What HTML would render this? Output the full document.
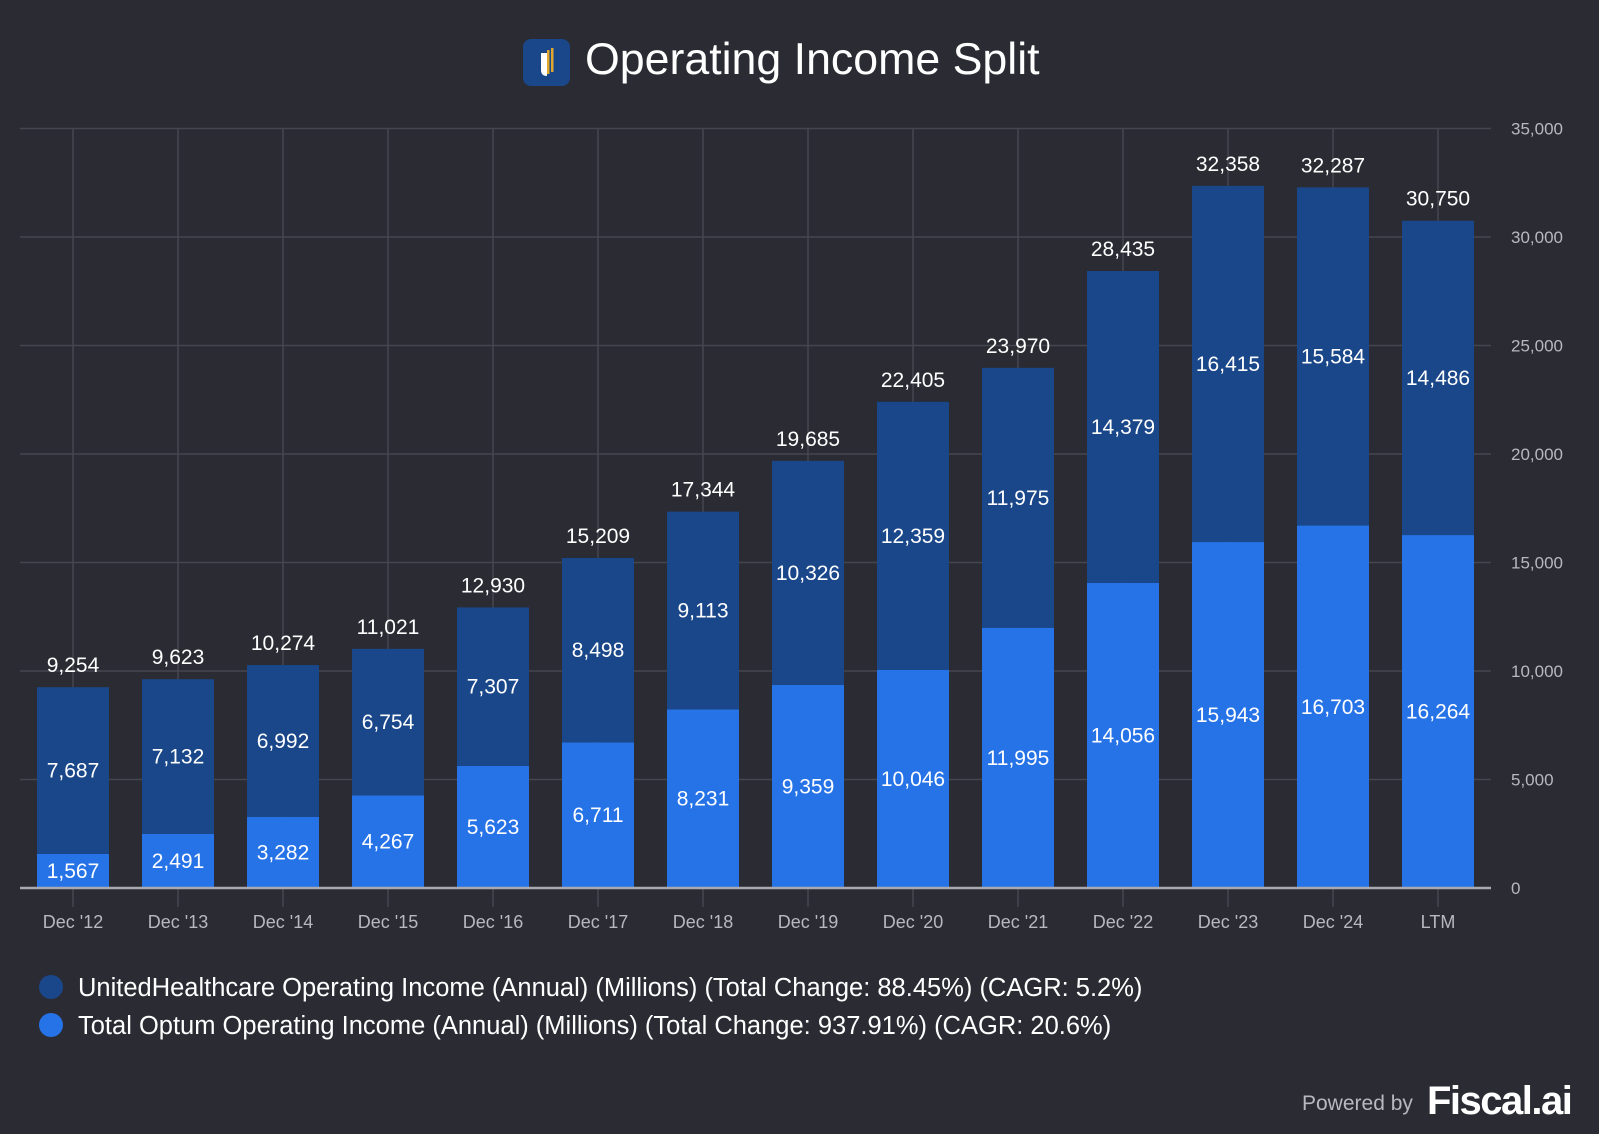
<!DOCTYPE html>
<html><head><meta charset="utf-8"><style>
html,body{margin:0;padding:0;background:#2a2b33;}
svg{display:block;font-family:"Liberation Sans",Arial,sans-serif;}
</style></head><body>
<svg id="chart" width="1599" height="1134" viewBox="0 0 1599 1134">
<rect x="0" y="0" width="1599" height="1134" fill="#2a2b33"/>
<g>
<rect x="523" y="39" width="47" height="47" rx="8" fill="#1a4789"/>
<path d="M541 53 L541 70 Q541 76 547 76 L547 53 Z" fill="#ffffff"/>
<rect x="547" y="50" width="2.5" height="24" fill="#e0a82e"/>
<rect x="551" y="48" width="2.5" height="24" fill="#e0a82e"/>
</g>
<text x="585" y="74" font-size="44.7" fill="#ffffff">Operating Income Split</text>
<g id="grid"></g>
<g id="bars"></g>
<g id="labels"></g>
<g>
<g>
<circle cx="51" cy="987" r="12" fill="#1a4789"/>
<text x="78" y="996" font-size="25.5" fill="#ffffff">UnitedHealthcare Operating Income (Annual) (Millions) (Total Change: 88.45%) (CAGR: 5.2%)</text>
</g>
<g>
<circle cx="51" cy="1025" r="12" fill="#2673e8"/>
<text x="78" y="1034" font-size="25.5" fill="#ffffff">Total Optum Operating Income (Annual) (Millions) (Total Change: 937.91%) (CAGR: 20.6%)</text>
</g>
</g>
<text x="1302" y="1110" font-size="21" fill="#b8b9be">Powered by</text>
<text x="1427" y="1114" font-size="40" fill="#ffffff" font-weight="bold" letter-spacing="-1.5">Fiscal.ai</text>
</svg>
<script>
const categories = ["Dec '12","Dec '13","Dec '14","Dec '15","Dec '16","Dec '17","Dec '18","Dec '19","Dec '20","Dec '21","Dec '22","Dec '23","Dec '24","LTM"];
const optum = [1567,2491,3282,4267,5623,6711,8231,9359,10046,11995,14056,15943,16703,16264];
const uhc = [7687,7132,6992,6754,7307,8498,9113,10326,12359,11975,14379,16415,15584,14486];
const totals = [9254,9623,10274,11021,12930,15209,17344,19685,22405,23970,28435,32358,32287,30750];
const yTicks = [0,5000,10000,15000,20000,25000,30000,35000];

const NS = "http://www.w3.org/2000/svg";
const y0 = 888, yTop = 128.5, yMax = 35000;
const yScale = v => y0 - (v / yMax) * (y0 - yTop);
const xScale = i => 73 + i * 105;
const barW = 72;
const fmt = v => v.toLocaleString("en-US");
function mk(tag, attrs, parent, txt){
  const el = document.createElementNS(NS, tag);
  for (const k in attrs) el.setAttribute(k, attrs[k]);
  if (txt !== undefined) el.textContent = txt;
  parent.appendChild(el);
  return el;
}
const grid = document.getElementById("grid");
const bars = document.getElementById("bars");
const labels = document.getElementById("labels");

yTicks.forEach(t => {
  const y = yScale(t);
  if (t > 0) {
    const l = mk("line", {x1:20, x2:1491, y1:y, y2:y, stroke:"#45464f", "stroke-width":1.5}, grid);
    
    
  }
  const tx = mk("text", {x:1511, y:y+6, "font-size":17, fill:"#b8b9be"}, grid, fmt(t));
  
  
});
categories.forEach((c, i) => {
  const x = xScale(i);
  const l = mk("line", {x1:x, x2:x, y1:yTop, y2:907, stroke:"#45464f", "stroke-width":1.5}, grid);
  
  
  const t = mk("text", {x:x, y:928, "font-size":18, fill:"#b8b9be", "text-anchor":"middle"}, grid, c);
  
  
});

categories.forEach((c, i) => {
  const x = xScale(i) - barW/2;
  const yo = yScale(optum[i]);
  const yu = yScale(optum[i] + uhc[i]);
  const b1 = mk("rect", {x:x, y:yo, width:barW, height:y0 - yo, fill:"#2673e8"}, bars);
  
  
  const b2 = mk("rect", {x:x, y:yu, width:barW, height:yo - yu, fill:"#1a4789"}, bars);
  
  
  const cx = xScale(i);
  const t1 = mk("text", {x:cx, y:(yo + y0)/2 + 7, "font-size":21, fill:"#ffffff", "text-anchor":"middle"}, labels, fmt(optum[i]));
  
  
  const t2 = mk("text", {x:cx, y:(yu + yo)/2 + 7, "font-size":21, fill:"#ffffff", "text-anchor":"middle"}, labels, fmt(uhc[i]));
  
  
  const t3 = mk("text", {x:cx, y:yScale(totals[i]) - 15, "font-size":21, fill:"#ffffff", "text-anchor":"middle"}, labels, fmt(totals[i]));
  
  
});
const ax = mk("line", {x1:20, x2:1491, y1:y0, y2:y0, stroke:"#a9aab0", "stroke-width":2.5}, bars);


</script>
</body></html>
